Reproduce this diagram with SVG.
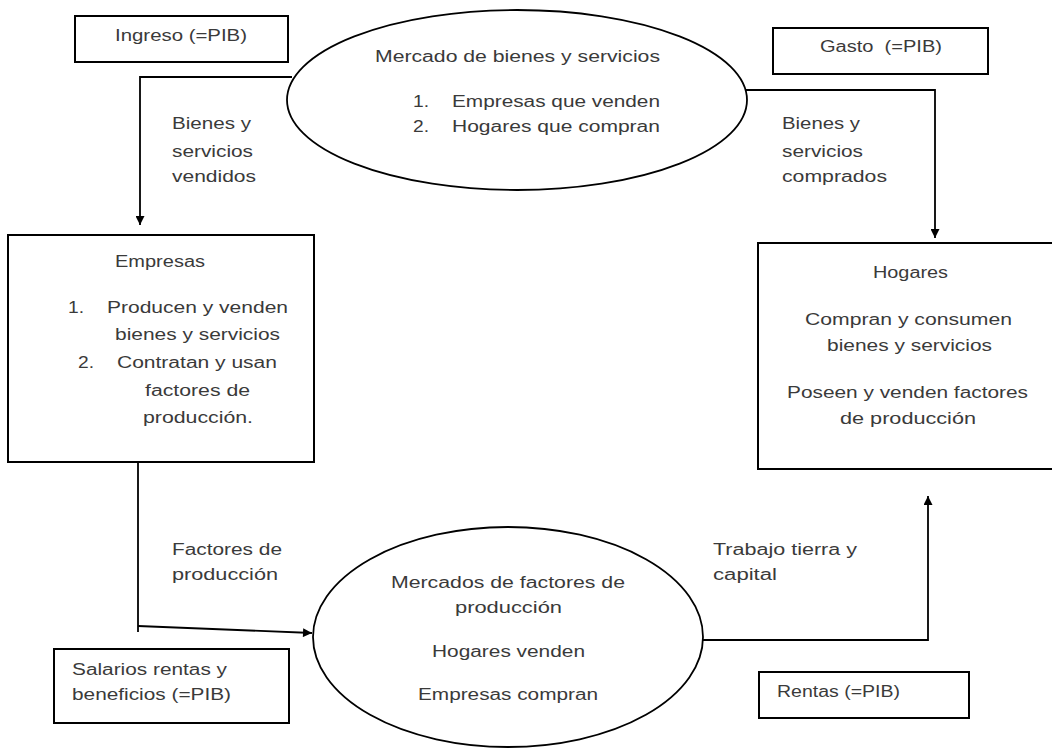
<svg xmlns="http://www.w3.org/2000/svg" width="1052" height="748" viewBox="0 0 1052 748">
<style>
.box{fill:#fff;stroke:#000;stroke-width:2}
.ell{fill:#fff;stroke:#000;stroke-width:1.8}
.ln{fill:none;stroke:#000;stroke-width:1.8}
text{font-family:"Liberation Sans",Arial,sans-serif;font-size:16px;fill:#3a3a3a}
.num{font-size:16px}
</style>
<defs>
<marker id="ah" viewBox="0 0 10 10" refX="10" refY="5" markerWidth="5.5" markerHeight="5" orient="auto" markerUnits="strokeWidth">
<path d="M0,0 L10,5 L0,10 z" fill="#000"/>
</marker>
</defs>
<rect x="0" y="0" width="1052" height="748" fill="#fff"/>

<g id="connectors">
<polyline class="ln" points="292,77 140,77 140,225" marker-end="url(#ah)"/>
<polyline class="ln" points="746,90 935,90 935,238" marker-end="url(#ah)"/>
<polyline class="ln" points="138,462 138,632"/>
<line class="ln" x1="138" y1="626" x2="312" y2="633" marker-end="url(#ah)"/>
<polyline class="ln" points="703,640 928,640 928,496" marker-end="url(#ah)"/>
</g>

<g id="ingreso">
<rect class="box" x="75" y="16" width="213" height="46"/>
<text x="115" y="41" textLength="132" lengthAdjust="spacingAndGlyphs">Ingreso (=PIB)</text>
</g>

<g id="gasto">
<rect class="box" x="773" y="28" width="215" height="46"/>
<text x="820" y="52" textLength="122" lengthAdjust="spacingAndGlyphs">Gasto&#160; (=PIB)</text>
</g>

<g id="mercado-bienes">
<ellipse class="ell" cx="517" cy="100" rx="230" ry="90"/>
<text x="375" y="62" textLength="285" lengthAdjust="spacingAndGlyphs">Mercado de bienes y servicios</text>
<text class="num" x="413" y="107" textLength="16" lengthAdjust="spacingAndGlyphs">1.</text>
<text x="452" y="107" textLength="208" lengthAdjust="spacingAndGlyphs">Empresas que venden</text>
<text class="num" x="413" y="132" textLength="16" lengthAdjust="spacingAndGlyphs">2.</text>
<text x="452" y="132" textLength="208" lengthAdjust="spacingAndGlyphs">Hogares que compran</text>
</g>

<g id="label-vendidos">
<text x="172" y="129" textLength="79" lengthAdjust="spacingAndGlyphs">Bienes y</text>
<text x="172" y="157" textLength="81" lengthAdjust="spacingAndGlyphs">servicios</text>
<text x="172" y="182" textLength="84" lengthAdjust="spacingAndGlyphs">vendidos</text>
</g>

<g id="label-comprados">
<text x="782" y="129" textLength="78" lengthAdjust="spacingAndGlyphs">Bienes y</text>
<text x="782" y="157" textLength="81" lengthAdjust="spacingAndGlyphs">servicios</text>
<text x="782" y="182" textLength="105" lengthAdjust="spacingAndGlyphs">comprados</text>
</g>

<g id="empresas">
<rect class="box" x="8" y="235" width="306" height="227"/>
<text x="115" y="267" textLength="90" lengthAdjust="spacingAndGlyphs">Empresas</text>
<text class="num" x="68" y="313" textLength="16" lengthAdjust="spacingAndGlyphs">1.</text>
<text x="107" y="313" textLength="181" lengthAdjust="spacingAndGlyphs">Producen y venden</text>
<text x="115" y="340" textLength="165" lengthAdjust="spacingAndGlyphs">bienes y servicios</text>
<text class="num" x="78" y="368" textLength="16" lengthAdjust="spacingAndGlyphs">2.</text>
<text x="117" y="368" textLength="160" lengthAdjust="spacingAndGlyphs">Contratan y usan</text>
<text x="145" y="396" textLength="105" lengthAdjust="spacingAndGlyphs">factores de</text>
<text x="143" y="423" textLength="110" lengthAdjust="spacingAndGlyphs">producción.</text>
</g>

<g id="hogares">
<rect class="box" x="758" y="243" width="300" height="226"/>
<text x="873" y="278" textLength="75" lengthAdjust="spacingAndGlyphs">Hogares</text>
<text x="805" y="325" textLength="207" lengthAdjust="spacingAndGlyphs">Compran y consumen</text>
<text x="827" y="351" textLength="165" lengthAdjust="spacingAndGlyphs">bienes y servicios</text>
<text x="787" y="398" textLength="241" lengthAdjust="spacingAndGlyphs">Poseen y venden factores</text>
<text x="840" y="424" textLength="136" lengthAdjust="spacingAndGlyphs">de producción</text>
</g>

<g id="label-factores">
<text x="172" y="555" textLength="110" lengthAdjust="spacingAndGlyphs">Factores de</text>
<text x="172" y="580" textLength="106" lengthAdjust="spacingAndGlyphs">producción</text>
</g>

<g id="label-trabajo">
<text x="713" y="555" textLength="144" lengthAdjust="spacingAndGlyphs">Trabajo tierra y</text>
<text x="713" y="580" textLength="64" lengthAdjust="spacingAndGlyphs">capital</text>
</g>

<g id="mercado-factores">
<ellipse class="ell" cx="508" cy="637" rx="195" ry="110"/>
<text x="391" y="588" textLength="234" lengthAdjust="spacingAndGlyphs">Mercados de factores de</text>
<text x="455" y="613" textLength="107" lengthAdjust="spacingAndGlyphs">producción</text>
<text x="432" y="657" textLength="153" lengthAdjust="spacingAndGlyphs">Hogares venden</text>
<text x="418" y="700" textLength="180" lengthAdjust="spacingAndGlyphs">Empresas compran</text>
</g>

<g id="salarios">
<rect class="box" x="54" y="649" width="235" height="74"/>
<text x="72" y="675" textLength="155" lengthAdjust="spacingAndGlyphs">Salarios rentas y</text>
<text x="72" y="700" textLength="159" lengthAdjust="spacingAndGlyphs">beneficios (=PIB)</text>
</g>

<g id="rentas">
<rect class="box" x="759" y="672" width="210" height="46"/>
<text x="777" y="697" textLength="123" lengthAdjust="spacingAndGlyphs">Rentas (=PIB)</text>
</g>
</svg>
